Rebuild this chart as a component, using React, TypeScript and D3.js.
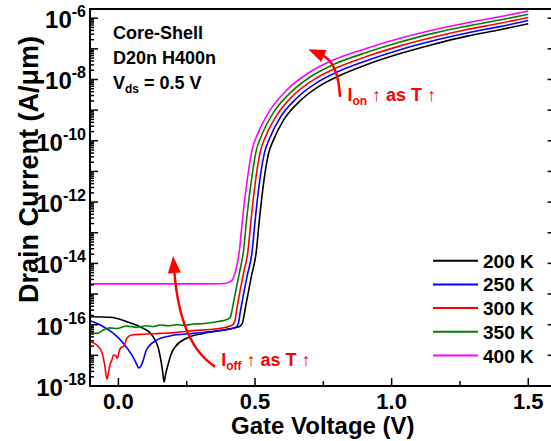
import React from 'react';
import * as d3 from 'd3';

// Id-Vg transfer curves at several temperatures (V in volts, I in A/um)
const temps = ['200 K', '250 K', '300 K', '350 K', '400 K'];
const colors = ['#000000', '#0000ff', '#ff0000', '#008000', '#ff00ff'];

const vg200: [number, number][] = [
  [-0.104, 1.82e-16], [-0.030, 1.74e-16], [0.031, 1.25e-16], [0.091, 7.6e-17], [0.116, 5.4e-17],
  [0.134, 3.2e-17], [0.146, 1.74e-17], [0.153, 9.0e-18], [0.162, 2.9e-18], [0.167, 1.35e-18],
  [0.173, 2.5e-18], [0.183, 5.5e-18], [0.193, 1.11e-17], [0.208, 1.9e-17], [0.250, 3.6e-17],
  [0.311, 5.2e-17], [0.397, 7.1e-17], [0.433, 8.2e-17], [0.445, 8.9e-17], [0.454, 1.14e-16],
  [0.462, 2.6e-16], [0.470, 6.4e-16], [0.487, 3.9e-15], [0.504, 2.2e-14], [0.516, 2.7e-13],
  [0.530, 3.4e-12], [0.549, 3.7e-11], [0.568, 1.09e-10], [0.606, 5.0e-10], [0.660, 1.83e-9],
  [0.735, 6.1e-9], [0.810, 1.35e-8], [0.910, 3.1e-8], [1.031, 7.0e-8], [1.151, 1.39e-7],
  [1.276, 2.6e-7], [1.396, 4.2e-7], [1.5, 6.6e-7],
];

const vg250: [number, number][] = [
  [-0.104, 1.35e-16], [-0.078, 1.09e-16], [-0.055, 8.6e-17], [-0.018, 5.2e-17], [0.018, 2.5e-17],
  [0.049, 1.03e-17], [0.065, 5.6e-18], [0.074, 3.9e-18], [0.079, 4.1e-18], [0.086, 5.2e-18],
  [0.091, 7.0e-18], [0.101, 1.39e-17], [0.110, 1.9e-17], [0.141, 3.2e-17], [0.189, 4.3e-17],
  [0.274, 5.2e-17], [0.372, 6.4e-17], [0.421, 7.6e-17], [0.431, 8.4e-17], [0.439, 1.09e-16],
  [0.446, 2.6e-16], [0.454, 6.4e-16], [0.472, 4.2e-15], [0.489, 2.3e-14], [0.501, 2.9e-13],
  [0.515, 3.6e-12], [0.534, 3.9e-11], [0.554, 1.23e-10], [0.593, 5.9e-10], [0.649, 2.3e-9],
  [0.726, 7.9e-9], [0.804, 1.82e-8], [0.910, 4.2e-8], [1.031, 9.4e-8], [1.151, 1.83e-7],
  [1.276, 3.3e-7], [1.396, 5.3e-7], [1.5, 8.4e-7],
];

const vg300: [number, number][] = [
  [-0.104, 2.8e-17], [-0.089, 2.5e-17], [-0.073, 1.9e-17], [-0.061, 1.29e-17], [-0.050, 4.8e-18],
  [-0.042, 1.66e-18], [-0.036, 2.9e-18], [-0.030, 5.2e-18], [-0.024, 7.0e-18], [-0.018, 1.03e-17],
  [-0.010, 9.9e-18], [-0.004, 8.0e-18], [0.004, 1.5e-17], [0.012, 1.87e-17], [0.019, 1.94e-17],
  [0.031, 3.7e-17], [0.049, 4.6e-17], [0.091, 4.9e-17], [0.153, 5.2e-17], [0.214, 5.6e-17],
  [0.274, 6.4e-17], [0.336, 7.0e-17], [0.372, 7.6e-17], [0.409, 9.1e-17], [0.420, 1.02e-16],
  [0.427, 1.42e-16], [0.432, 2.8e-16], [0.439, 6.4e-16], [0.457, 4.4e-15], [0.474, 2.5e-14],
  [0.486, 3.0e-13], [0.500, 3.8e-12], [0.519, 4.3e-11], [0.539, 1.39e-10], [0.581, 7.1e-10],
  [0.638, 2.9e-9], [0.718, 1.03e-8], [0.798, 2.4e-8], [0.910, 5.7e-8], [1.031, 1.25e-7],
  [1.151, 2.4e-7], [1.276, 4.3e-7], [1.396, 6.8e-7], [1.5, 1.06e-6],
];

const vg350: [number, number][] = [
  [-0.104, 5.6e-17], [-0.079, 5.2e-17], [-0.055, 6.7e-17], [-0.030, 7.9e-17], [-0.006, 7.5e-17],
  [0.031, 9.1e-17], [0.067, 8.2e-17], [0.104, 9.2e-17], [0.127, 8.7e-17], [0.153, 9.8e-17],
  [0.182, 9.2e-17], [0.214, 1.0e-16], [0.244, 9.6e-17], [0.274, 1.05e-16], [0.306, 1.07e-16],
  [0.336, 1.16e-16], [0.365, 1.27e-16], [0.397, 1.48e-16], [0.409, 1.72e-16], [0.416, 3.0e-16],
  [0.423, 6.4e-16], [0.442, 4.6e-15], [0.458, 2.6e-14], [0.470, 3.2e-13], [0.485, 4.0e-12],
  [0.504, 4.6e-11], [0.525, 1.58e-10], [0.568, 8.5e-10], [0.628, 3.6e-9], [0.710, 1.35e-8],
  [0.791, 3.2e-8], [0.910, 7.7e-8], [1.031, 1.66e-7], [1.151, 3.2e-7], [1.276, 5.5e-7],
  [1.396, 8.7e-7], [1.5, 1.35e-6],
];

const vg400: [number, number][] = [
  [-0.104, 2.14e-15], [0.116, 2.14e-15], [0.30, 2.14e-15], [0.372, 2.16e-15], [0.394, 2.24e-15],
  [0.409, 2.53e-15], [0.420, 3.2e-15], [0.427, 4.9e-15], [0.443, 2.74e-14], [0.455, 3.3e-13],
  [0.470, 4.2e-12], [0.489, 5.0e-11], [0.511, 1.78e-10], [0.555, 1.0e-9], [0.617, 4.6e-9],
  [0.701, 1.75e-8], [0.786, 4.3e-8], [0.910, 1.05e-7], [1.031, 2.2e-7], [1.151, 4.1e-7],
  [1.276, 7.1e-7], [1.396, 1.12e-6], [1.5, 1.7e-6],
];

const series = [vg200, vg250, vg300, vg350, vg400];

const xMajor = [0, 0.5, 1.0, 1.5];
const xMinor = [0.25, 0.75, 1.25];
const yLabelExps = [-6, -8, -10, -12, -14, -16, -18];

// annotation arrows: start, control, tip (data coords)
const ionArrow: [number, number][] = [[0.811, 2.7e-9], [0.804, 3.7e-8], [0.695, 9.7e-8]];
const ioffArrow: [number, number][] = [[0.354, 4.3e-18], [0.226, 2.2e-17], [0.200, 1.74e-14]];

const FONT = '"Liberation Sans", Arial, sans-serif';

export default function App() {
  const left = 90, right = 555.6, top = 9, bottom = 386;

  const x = d3.scaleLinear().domain([-0.104, 1.6]).range([left, right]);
  const y = d3.scaleLog().domain([1e-18, Math.pow(10, -5.7)]).range([bottom, top]);

  const line = d3.line<[number, number]>()
    .x(d => x(d[0]))
    .y(d => y(d[1]))
    .curve(d3.curveMonotoneX);

  const yTicks: { v: number; major: boolean }[] = [];
  for (let e = -18; e <= -6; e++) {
    yTicks.push({ v: Math.pow(10, e), major: true });
    for (let m = 2; m <= 9; m++) {
      const v = m * Math.pow(10, e);
      if (v < y.domain()[1]) yTicks.push({ v, major: false });
    }
  }

  const arrow = (pts: [number, number][]) => {
    const [p0, p1, p2] = pts.map(p => [x(p[0]), y(p[1])]);
    const dx = p2[0] - p1[0], dy = p2[1] - p1[1];
    const len = Math.hypot(dx, dy);
    const ux = dx / len, uy = dy / len;
    const headL = 17, headW = 6.5;
    const bx = p2[0] - ux * headL, by = p2[1] - uy * headL;
    const shaft = `M${p0[0]},${p0[1]} Q${p1[0]},${p1[1]} ${bx + ux * 2},${by + uy * 2}`;
    const head = `M${p2[0]},${p2[1]} L${bx - uy * headW},${by + ux * headW} L${bx + uy * headW},${by - ux * headW} Z`;
    return (
      <g>
        <path d={shaft} fill="none" stroke="#ff0000" strokeWidth={2.5} />
        <path d={head} fill="#ff0000" />
      </g>
    );
  };

  const legendX = 433, legendY = 260.7, legendStep = 23.7;

  return (
    <svg width={551} height={441} style={{ position: 'absolute', left: 0, top: 0, background: '#fff' }}
      fontFamily={FONT} fontWeight="bold">
      <defs>
        <clipPath id="plotArea">
          <rect x={left} y={top} width={right - left} height={bottom - top} />
        </clipPath>
      </defs>
      <rect x={0} y={0} width={551} height={441} fill="#fff" />

      {/* curves */}
      <g clipPath="url(#plotArea)">
        {series.map((s, i) => (
          <path key={temps[i]} d={line(s) || ''} fill="none" stroke={colors[i]} strokeWidth={1.6} />
        ))}
      </g>

      {/* frame */}
      <rect x={left} y={top} width={right - left} height={bottom - top} fill="none" stroke="#000" strokeWidth={2} />

      {/* y ticks, left and right, inward */}
      {yTicks.map((t, i) => {
        const yy = y(t.v);
        const len = t.major ? 8 : 4;
        return (
          <g key={i} stroke="#000" strokeWidth={1.5}>
            <line x1={left} x2={left + len} y1={yy} y2={yy} />
            <line x1={right} x2={right - len} y1={yy} y2={yy} />
          </g>
        );
      })}

      {/* x ticks, inward */}
      {xMajor.map(v => (
        <line key={'M' + v} x1={x(v)} x2={x(v)} y1={bottom} y2={bottom - 8} stroke="#000" strokeWidth={1.5} />
      ))}
      {xMinor.map(v => (
        <line key={'m' + v} x1={x(v)} x2={x(v)} y1={bottom} y2={bottom - 5} stroke="#000" strokeWidth={1.5} />
      ))}

      {/* y tick labels */}
      {yLabelExps.map(e => (
        <text key={e} x={86} y={y(Math.pow(10, e)) + 10} textAnchor="end" fontSize={24}>
          10<tspan fontSize={16} dy={-11}>{e}</tspan>
        </text>
      ))}

      {/* x tick labels */}
      {xMajor.map(v => (
        <text key={'l' + v} x={x(v)} y={409} textAnchor="middle" fontSize={22}>{v.toFixed(1)}</text>
      ))}

      {/* axis titles */}
      <text x={(left + right) / 2} y={434} textAnchor="middle" fontSize={24}>Gate Voltage (V)</text>
      <text transform={`translate(38,${(top + bottom) / 2 - 28}) rotate(-90)`} textAnchor="middle" fontSize={27}>
        Drain Current (A/μm)
      </text>

      {/* device notes */}
      <g fontSize={18}>
        <text x={113} y={39}>Core-Shell</text>
        <text x={113} y={64}>D20n H400n</text>
        <text x={113} y={89}>V<tspan fontSize={12} dy={4}>ds</tspan><tspan dy={-4}> = 0.5 V</tspan></text>
      </g>

      {/* legend */}
      {temps.map((t, i) => (
        <g key={t}>
          <line x1={legendX} x2={legendX + 45} y1={legendY + i * legendStep} y2={legendY + i * legendStep}
            stroke={colors[i]} strokeWidth={2} />
          <text x={legendX + 50} y={legendY + i * legendStep + 7} fontSize={19}>{t}</text>
        </g>
      ))}

      {/* annotations */}
      {arrow(ionArrow)}
      {arrow(ioffArrow)}
      <text x={x(0.838)} y={y(2.0e-9)} fill="#ff0000" fontSize={18}>
        I<tspan fontSize={12} dy={4}>on</tspan><tspan dy={-4}> ↑ as T ↑</tspan>
      </text>
      <text x={x(0.376)} y={y(4.5e-18)} fill="#ff0000" fontSize={18}>
        I<tspan fontSize={12} dy={4}>off</tspan><tspan dy={-4}> ↑ as T ↑</tspan>
      </text>
    </svg>
  );
}
